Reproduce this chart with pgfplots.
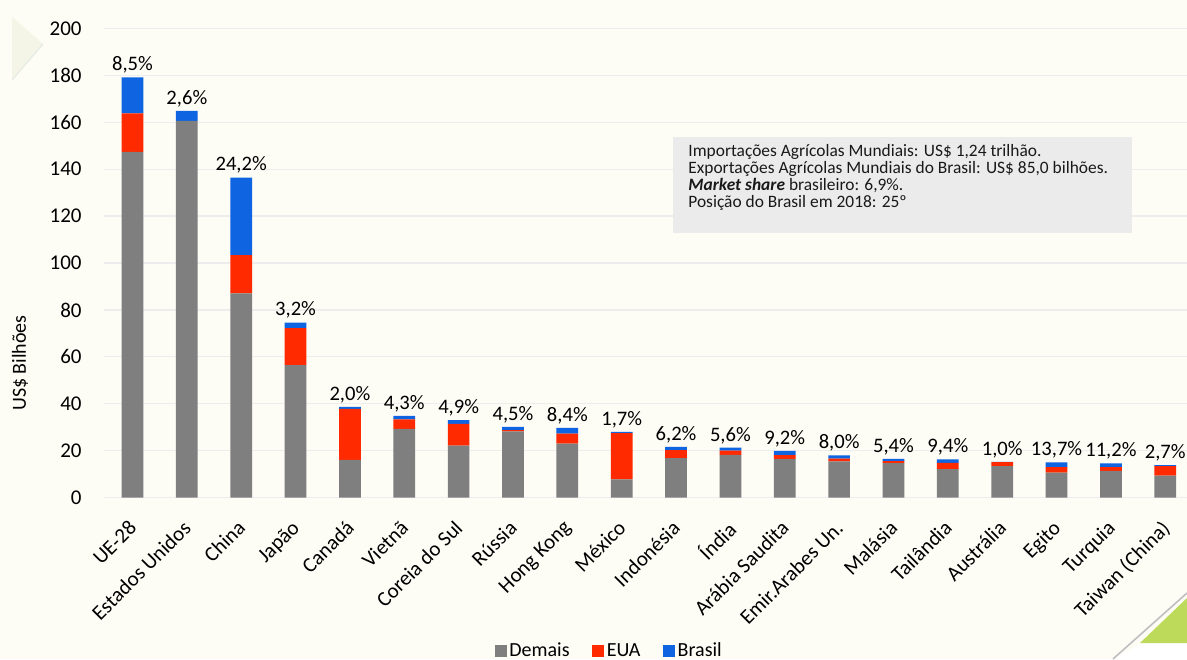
\documentclass[border=0pt]{standalone}
\usepackage{fontspec}
\setmainfont{Carlito}
\usepackage{pgfplots}
\usepackage{pgfplotstable}
\pgfplotsset{compat=1.18}
\definecolor{bgc}{HTML}{FDFCF5}
\definecolor{cgray}{HTML}{7F7F7F}
\definecolor{cred}{HTML}{FF2A00}
\definecolor{cblue}{HTML}{0F64E1}
\definecolor{boxgray}{HTML}{EBEBEB}
\definecolor{dgreen}{HTML}{BDDA5A}
\definecolor{paleg}{HTML}{F4F5E6}

\pgfplotstableread{
idx demais eua brasil total lbl
0 147.4 16.4 15.3 179.1 8,5\%
1 160.6 0.0 4.2 164.8 2,6\%
2 87.1 16.3 33.0 136.4 24,2\%
3 56.5 15.7 2.4 74.6 3,2\%
4 16.1 21.8 0.8 38.7 2,0\%
5 29.3 4.1 1.5 34.9 4,3\%
6 22.2 9.3 1.6 33.1 4,9\%
7 28.3 0.5 1.35 30.15 4,5\%
8 23.0 4.3 2.5 29.8 8,4\%
9 7.8 19.7 0.5 28.0 1,7\%
10 16.9 3.4 1.35 21.65 6,2\%
11 18.3 1.8 1.2 21.3 5,6\%
12 16.5 1.6 1.85 19.95 9,2\%
13 15.5 1.1 1.45 18.05 8,0\%
14 14.7 0.9 0.9 16.5 5,4\%
15 12.2 2.6 1.5 16.3 9,4\%
16 13.5 1.65 0.15 15.3 1,0\%
17 10.7 2.3 2.1 15.1 13,7\%
18 11.4 1.6 1.65 14.65 11,2\%
19 9.4 4.1 0.4 13.9 2,7\%
}\datatable

\pgfplotsset{common/.style={
  at={(52pt,80.65pt)}, anchor=south west,
  scale only axis, width=541.5pt, height=234.7pt,
  xmin=-0.524, xmax=19.4, ymin=0, ymax=200}}

\begin{document}
\begin{tikzpicture}
% background and slide decorations
\fill[bgc, use as bounding box] (0,0) rectangle (593.5pt,329.5pt);
\fill[paleg] (6pt,321pt) -- (21.5pt,307.5pt) -- (6pt,289.5pt) -- cycle;
\draw[green!20!black!10, line width=0.6pt] (21.5pt,307.5pt) -- (6pt,289.5pt);
\fill[white] (556.5pt,0pt) -- (571.5pt,8pt) -- (593.5pt,8pt) -- (593.5pt,0pt) -- cycle;
\fill[dgreen] (570pt,8pt) -- (593.5pt,30.5pt) -- (593.5pt,8pt) -- cycle;
\draw[black!25, line width=0.8pt] (556.5pt,0pt) -- (593.5pt,33pt);

\begin{axis}[
  common,
  ybar stacked, bar width=0.4,
  axis line style={draw=none},
  major tick length=0pt,
  ytick={0,20,...,200},
  ymajorgrids, major grid style={draw=black!7, line width=0.6pt},
  xtick=data,
  xticklabels={UE-28,Estados Unidos,China,Japão,Canadá,Vietnã,Coreia do Sul,Rússia,Hong Kong,México,Indonésia,Índia,Arábia Saudita,Emir.Arabes Un.,Malásia,Tailândia,Austrália,Egito,Turquia,Taiwan (China)},
  xticklabel style={yshift=-10.5pt, xshift=-2.5pt, rotate=45, anchor=north east, inner sep=0pt, font=\fontsize{10.5}{12}\selectfont},
  yticklabel style={xshift=-11pt, anchor=east, inner sep=0pt, font=\fontsize{10.5}{12}\selectfont},
  /pgf/number format/assume math mode=true,
  ylabel={US\$ Bilhões},
  ylabel style={at={(rel axis cs:-0.0776,0.287)}, anchor=center, font=\fontsize{10}{12}\selectfont},
  clip=false,
  legend style={at={(rel axis cs:0.467,-0.327)}, anchor=center, draw=none, fill=none,
    font=\fontsize{10}{12}\selectfont, legend columns=-1,
    /tikz/every even column/.append style={column sep=10pt},
    nodes={inner sep=1.4pt}},
  legend image code/.code={\fill[#1] (0pt,-2.9pt) rectangle (5.8pt,2.9pt);},
]
\addplot[fill=cgray, draw=none] table[x=idx, y=demais] {\datatable};
\addplot[fill=cred, draw=none] table[x=idx, y=eua] {\datatable};
\addplot[fill=cblue, draw=none] table[x=idx, y=brasil] {\datatable};
\legend{Demais, EUA, Brasil}
\end{axis}

\begin{axis}[common, hide axis, clip=false]
\addplot[draw=none, mark=none, nodes near coords, point meta=explicit symbolic,
  every node near coord/.append style={font=\fontsize{10.3}{12}\selectfont, text=black, anchor=south, inner sep=1.8pt}]
  table[x=idx, y=total, meta=lbl] {\datatable};
\end{axis}

\fill[boxgray] (336.5pt,213pt) rectangle (566pt,261pt);
\begin{scope}[every node/.style={anchor=base west, inner sep=0pt, font=\fontsize{8.7}{10}\selectfont, text=black!90}]
\node at (344pt,251pt) {Importações Agrícolas Mundiais: US\$ 1,24 trilhão.};
\node at (344pt,242.65pt) {Exportações Agrícolas Mundiais do Brasil: US\$ 85,0 bilhões.};
\node at (344pt,234.3pt) {\textbf{\textit{Market share}} brasileiro: 6,9\%.};
\node at (344pt,225.95pt) {Posição do Brasil em 2018: 25º};
\end{scope}
\end{tikzpicture}
\end{document}
